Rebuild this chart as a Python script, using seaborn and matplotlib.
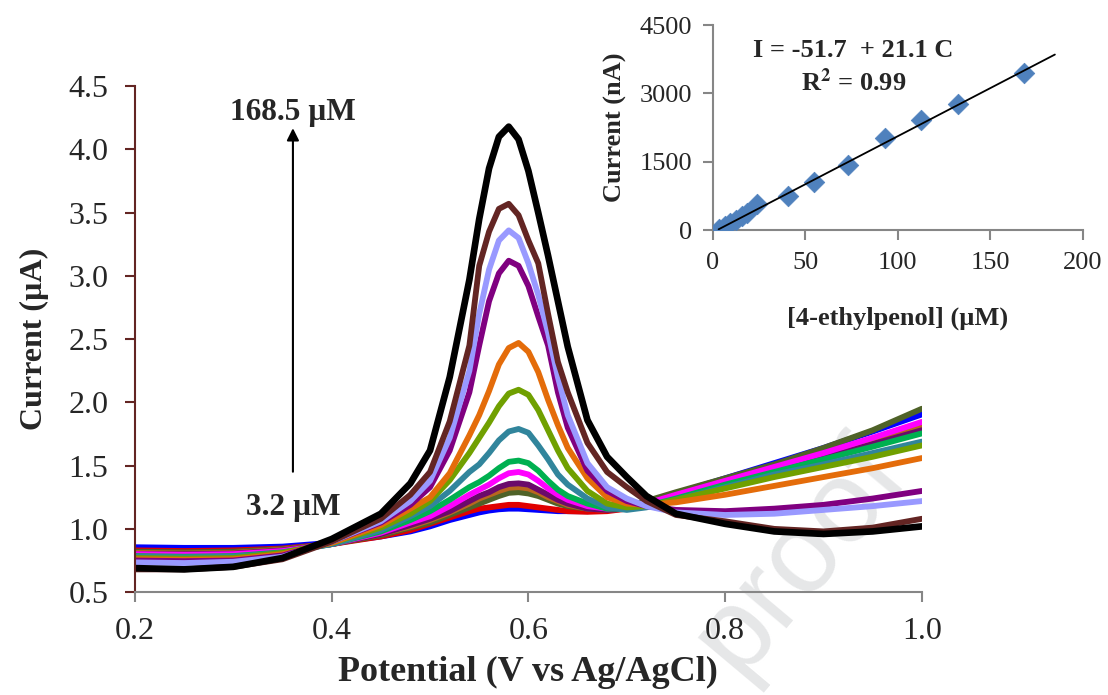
import numpy as np
import pandas as pd
import matplotlib
matplotlib.use("Agg")
import matplotlib.pyplot as plt
import seaborn as sns

# potential grid (V) shared by all DPV curves
potential = [0.20, 0.25, 0.30, 0.35, 0.40, 0.45, 0.48, 0.50, 0.52, 0.54,
             0.55, 0.56, 0.57, 0.58, 0.59, 0.60, 0.61, 0.62, 0.63, 0.64,
             0.66, 0.68, 0.70, 0.72, 0.75, 0.80, 0.85, 0.90, 0.95, 1.00]

# currents (uA), lowest to highest concentration
cur_blue = [0.855, 0.85, 0.85, 0.86, 0.89, 0.94, 0.98, 1.02, 1.07, 1.11,
            1.13, 1.145, 1.155, 1.16, 1.16, 1.155, 1.15, 1.145, 1.14, 1.14,
            1.14, 1.15, 1.17, 1.21, 1.28, 1.40, 1.52, 1.64, 1.77, 1.905]
cur_red = [0.83, 0.825, 0.83, 0.845, 0.88, 0.94, 0.99, 1.04, 1.09, 1.14,
           1.16, 1.17, 1.18, 1.19, 1.19, 1.18, 1.17, 1.16, 1.15, 1.14,
           1.135, 1.14, 1.16, 1.20, 1.27, 1.38, 1.49, 1.60, 1.71, 1.82]
cur_olive = [0.82, 0.815, 0.82, 0.84, 0.88, 0.95, 1.01, 1.05, 1.11, 1.17,
             1.20, 1.23, 1.26, 1.285, 1.29, 1.28, 1.26, 1.23, 1.20, 1.18,
             1.16, 1.16, 1.18, 1.22, 1.29, 1.40, 1.51, 1.64, 1.78, 1.95]
cur_rust = [0.81, 0.805, 0.81, 0.835, 0.88, 0.96, 1.02, 1.07, 1.13, 1.20,
            1.24, 1.27, 1.30, 1.325, 1.33, 1.32, 1.29, 1.25, 1.22, 1.19,
            1.16, 1.15, 1.16, 1.19, 1.26, 1.37, 1.48, 1.59, 1.70, 1.80]
cur_plum = [0.80, 0.80, 0.805, 0.83, 0.88, 0.96, 1.03, 1.08, 1.14, 1.22,
            1.26, 1.29, 1.33, 1.355, 1.36, 1.35, 1.31, 1.27, 1.23, 1.20,
            1.16, 1.15, 1.16, 1.19, 1.25, 1.36, 1.46, 1.56, 1.67, 1.78]
cur_magenta = [0.80, 0.795, 0.80, 0.825, 0.88, 0.97, 1.05, 1.10, 1.18, 1.27,
               1.31, 1.35, 1.40, 1.44, 1.45, 1.43, 1.38, 1.32, 1.27, 1.23,
               1.18, 1.16, 1.17, 1.20, 1.27, 1.38, 1.49, 1.60, 1.72, 1.846]
cur_green = [0.785, 0.78, 0.785, 0.815, 0.88, 0.98, 1.07, 1.14, 1.23, 1.33,
             1.37, 1.42, 1.48, 1.53, 1.54, 1.52, 1.46, 1.38, 1.31, 1.26,
             1.20, 1.16, 1.16, 1.18, 1.24, 1.35, 1.45, 1.55, 1.65, 1.755]
cur_teal = [0.78, 0.775, 0.78, 0.81, 0.88, 0.99, 1.10, 1.18, 1.30, 1.45,
            1.51, 1.60, 1.70, 1.77, 1.79, 1.76, 1.66, 1.55, 1.43, 1.35,
            1.24, 1.17, 1.15, 1.17, 1.23, 1.33, 1.43, 1.51, 1.60, 1.69]
cur_lime = [0.77, 0.765, 0.77, 0.81, 0.89, 1.01, 1.12, 1.22, 1.385, 1.60,
            1.72, 1.84, 1.97, 2.07, 2.10, 2.06, 1.94, 1.78, 1.62, 1.48,
            1.30, 1.20, 1.17, 1.18, 1.23, 1.32, 1.41, 1.49, 1.57, 1.66]
cur_orange = [0.76, 0.755, 0.76, 0.80, 0.89, 1.03, 1.16, 1.25, 1.44, 1.74,
              1.90, 2.09, 2.30, 2.43, 2.47, 2.40, 2.24, 2.02, 1.82, 1.64,
              1.40, 1.25, 1.20, 1.19, 1.21, 1.27, 1.34, 1.41, 1.48, 1.56]
cur_purple = [0.75, 0.745, 0.75, 0.79, 0.90, 1.05, 1.19, 1.33, 1.62, 2.08,
              2.45, 2.80, 3.02, 3.12, 3.08, 2.92, 2.68, 2.45, 2.08, 1.80,
              1.46, 1.30, 1.22, 1.18, 1.15, 1.14, 1.16, 1.19, 1.24, 1.30]
cur_lilac = [0.735, 0.73, 0.74, 0.78, 0.90, 1.06, 1.22, 1.38, 1.72, 2.25,
             2.70, 3.05, 3.28, 3.36, 3.30, 3.10, 2.85, 2.55, 2.20, 1.90,
             1.52, 1.33, 1.24, 1.18, 1.13, 1.11, 1.12, 1.15, 1.18, 1.22]
cur_brown = [0.68, 0.68, 0.70, 0.76, 0.90, 1.08, 1.27, 1.45, 1.85, 2.45,
             3.08, 3.35, 3.53, 3.57, 3.48, 3.28, 3.10, 2.70, 2.32, 2.08,
             1.68, 1.45, 1.33, 1.22, 1.11, 1.06, 1.00, 0.98, 1.01, 1.08]
cur_black = [0.69, 0.68, 0.70, 0.77, 0.92, 1.12, 1.36, 1.62, 2.20, 2.97,
             3.45, 3.85, 4.10, 4.18, 4.08, 3.83, 3.50, 3.16, 2.80, 2.44,
             1.86, 1.57, 1.41, 1.26, 1.12, 1.04, 0.98, 0.96, 0.98, 1.02]

curves = [cur_blue, cur_red, cur_olive, cur_rust, cur_plum, cur_magenta, cur_green,
          cur_teal, cur_lime, cur_orange, cur_purple, cur_lilac, cur_brown, cur_black]
colors = ["#0000FF", "#E00000", "#4F6228", "#B9661F", "#6B0A6B", "#FF00FF", "#00B050",
          "#31859C", "#70A000", "#E46C0A", "#800080", "#9999FF", "#632523", "#000000"]

# calibration (inset)
conc = [3.2, 6.4, 9.5, 12.6, 15.7, 18.8, 23.8, 40.5, 55.0, 73.3, 93.2, 112.4, 132.4, 168.5]
peak_nA = [20, 90, 160, 230, 300, 380, 570, 746, 1061, 1434, 2012, 2415, 2758, 3454]
fit_x = [3.2, 185.0]
intercept, slope = -51.7, 21.1

serif = ["Liberation Serif", "DejaVu Serif"]
sns.set_style("white")
plt.rcParams["font.family"] = serif
plt.rcParams["mathtext.fontset"] = "stix"

rows = []
for i, ys in enumerate(curves):
    for x, y in zip(potential, ys):
        rows.append((i, x, y))
df = pd.DataFrame(rows, columns=["run", "Potential", "Current"])

fig = plt.figure(figsize=(11.08, 6.95), dpi=100)
# faint watermark behind everything
fig.text(0.722, 0.2, "proof", rotation=50, color="#e6e7e8", fontsize=84,
         family="Liberation Sans", ha="center", va="center", zorder=-5)

ax = fig.add_axes([0.1218, 0.148, 0.7102, 0.728])
ax.patch.set_alpha(0)
sns.lineplot(data=df, x="Potential", y="Current", hue="run", palette=colors,
             estimator=None, sort=False, legend=False, ax=ax)
for ln in ax.lines:
    ln.set_linewidth(4.2)
    ln.set_solid_joinstyle("round")
    ln.set_solid_capstyle("round")
ax.lines[-1].set_linewidth(4.8)

ax.set_xlim(0.2, 1.0)
ax.set_ylim(0.5, 4.5)
ax.set_xticks([0.2, 0.4, 0.6, 0.8, 1.0])
ax.set_yticks(np.arange(0.5, 4.51, 0.5))
ax.set_xticklabels([f"{t:.1f}" for t in ax.get_xticks()])
ax.set_yticklabels([f"{t:.1f}" for t in ax.get_yticks()])
for s in ["top", "right"]:
    ax.spines[s].set_visible(False)
ax.spines["left"].set_color("#632523")
ax.spines["bottom"].set_color("#868686")
ax.spines["left"].set_linewidth(1.5)
ax.spines["bottom"].set_linewidth(1.5)
ax.tick_params(axis="y", left=True, direction="out", length=7, width=1.5,
               color="#632523", labelsize=23, pad=12)
ax.tick_params(axis="x", bottom=True, direction="out", length=7, width=1.5,
               color="#868686", labelsize=23, pad=11)
ax.set_xlabel("Potential (V vs Ag/AgCl)", fontsize=26, fontweight="bold", labelpad=7)
ax.set_ylabel("Current (µA)", fontsize=23, fontweight="bold", labelpad=14)

ax.annotate("", xy=(0.3606, 4.19), xytext=(0.3606, 1.43),
            arrowprops=dict(arrowstyle="-|>", color="black", lw=1.5, mutation_scale=18))
ax.text(0.3606, 4.29, "168.5 µM", fontsize=22.5, fontweight="bold", ha="center", va="center")
ax.text(0.3606, 1.17, "3.2 µM", fontsize=22.5, fontweight="bold", ha="center", va="center")

# inset calibration plot
ins = fig.add_axes([0.6432, 0.669, 0.3339, 0.295])
ins.patch.set_alpha(0)
sns.scatterplot(x=conc, y=peak_nA, marker="D", s=110, color="#4F81BD",
                edgecolor="#4F81BD", linewidth=0.5, ax=ins, zorder=3)
fit_y = [intercept + slope * c for c in fit_x]
ins.plot(fit_x, fit_y, color="black", lw=1.3, zorder=4)
ins.set_xlim(0, 200)
ins.set_ylim(0, 4500)
ins.set_xticks([0, 50, 100, 150, 200])
ins.set_yticks([0, 1500, 3000, 4500])
for s in ["top", "right"]:
    ins.spines[s].set_visible(False)
for s in ["left", "bottom"]:
    ins.spines[s].set_color("#868686")
    ins.spines[s].set_linewidth(1.5)
ins.tick_params(left=True, bottom=True, direction="out", length=7, width=1.5,
                color="#868686", labelsize=19)
ins.tick_params(axis="x", pad=9)
ins.tick_params(axis="y", pad=8)
ins.set_xlabel("[4-ethylpenol] (µM)", fontsize=19, fontweight="bold", labelpad=23)
ins.set_ylabel("Current (nA)", fontsize=19, fontweight="bold", labelpad=9)
ins.text(0.38, 0.878, "I = -51.7  + 21.1 C", transform=ins.transAxes, fontsize=19,
         fontweight="bold", ha="center", va="center")
ins.text(0.38, 0.722, "R$^\\mathbf{2}$ = 0.99", transform=ins.transAxes, fontsize=19,
         fontweight="bold", ha="center", va="center")

fig.savefig("out.png", dpi=100)
